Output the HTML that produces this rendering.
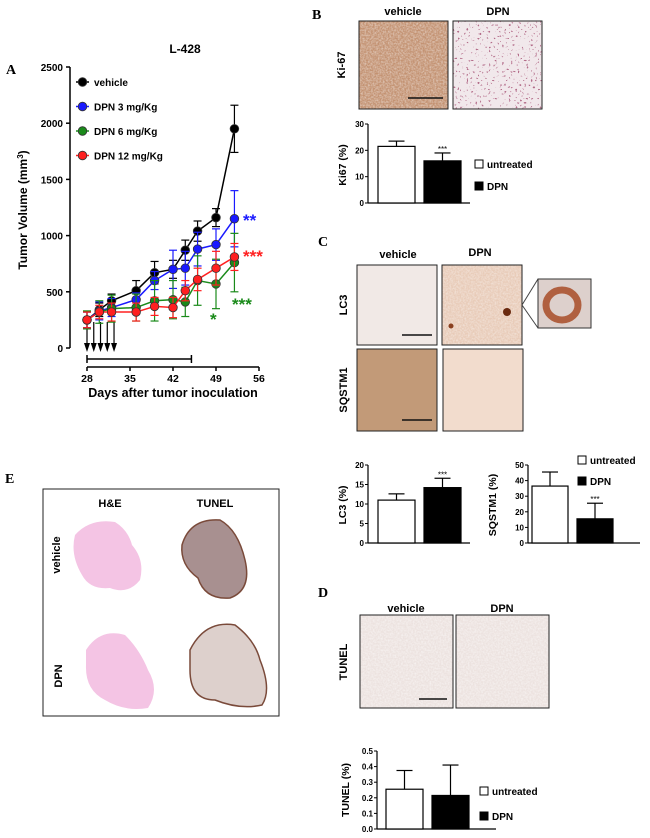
<!DOCTYPE html>
<html><head><meta charset="utf-8"><style>
body{margin:0;background:#fff;}
svg{display:block;font-family:"Liberation Sans",Arial,sans-serif;}
.b{font-weight:bold;}
</style></head><body>
<svg id="fig" width="650" height="838" viewBox="0 0 650 838" xmlns="http://www.w3.org/2000/svg">
<defs>
<filter id="noise" x="0" y="0" width="100%" height="100%">
<feTurbulence type="fractalNoise" baseFrequency="0.6" numOctaves="2" seed="3" result="n"/>
<feColorMatrix in="n" type="matrix" values="0 0 0 0 1  0 0 0 0 1  0 0 0 0 1  0 0 0 -1.6 1.1" result="w"/>
<feComposite in="w" in2="SourceGraphic" operator="in"/>
</filter>
<filter id="dots" x="0" y="0" width="100%" height="100%">
<feTurbulence type="fractalNoise" baseFrequency="0.45" numOctaves="1" seed="7" result="n"/>
<feColorMatrix in="n" type="matrix" values="0 0 0 0 0.45  0 0 0 0 0.15  0 0 0 0 0.25  0 0 0 -14 5.0" result="d"/>
<feComposite in="d" in2="SourceGraphic" operator="in"/>
</filter>
</defs>

<!-- Panel A -->
<g id="panelA">
<text x="6" y="74" font-family="Liberation Serif" font-size="14" class="b">A</text>
<text x="185" y="53" font-size="12" class="b" text-anchor="middle">L-428</text>
<text transform="translate(27,210) rotate(-90)" font-size="12" class="b" text-anchor="middle">Tumor Volume (mm<tspan dy="-4" font-size="8">3</tspan><tspan dy="4">)</tspan></text>
<text x="173" y="397" font-size="12.5" class="b" text-anchor="middle">Days after tumor inoculation</text>
<g id="aAxes"></g>
<g id="aSeries"></g>
<g id="aLegend"></g>
<text x="243" y="226" font-size="17" class="b" fill="#1a1aff">**</text>
<text x="243" y="262" font-size="17" class="b" fill="#ff2020">***</text>
<text x="232" y="310" font-size="17" class="b" fill="#1a8a1a">***</text>
<text x="210" y="325" font-size="17" class="b" fill="#1a8a1a">*</text>
</g>

<!-- Panel B -->
<g>
<text x="312" y="19" font-family="Liberation Serif" font-size="14" class="b">B</text>
<text x="403" y="15" font-size="11" class="b" text-anchor="middle">vehicle</text>
<text x="498" y="15" font-size="11" class="b" text-anchor="middle">DPN</text>
<text transform="translate(345,65) rotate(-90)" font-size="11" class="b" text-anchor="middle">Ki-67</text>
<rect x="359" y="21" width="89" height="88" fill="#c39272"/>
<rect x="359" y="21" width="89" height="88" fill="#c39272" filter="url(#noise)" opacity="0.55"/>
<rect x="359" y="21" width="89" height="88" fill="none" stroke="#222" stroke-width="1"/>
<line x1="408" y1="98" x2="443" y2="98" stroke="#111" stroke-width="1.5"/>
<rect x="453" y="21" width="89" height="88" fill="#f1e8eb"/>
<rect x="453" y="21" width="89" height="88" fill="#f1e8eb" filter="url(#dots)"/>
<rect x="453" y="21" width="89" height="88" fill="none" stroke="#222" stroke-width="1"/>
<g id="chartKi"></g>
</g>

<!-- Panel C -->
<g>
<text x="318" y="246" font-family="Liberation Serif" font-size="14" class="b">C</text>
<text x="398" y="258" font-size="11" class="b" text-anchor="middle">vehicle</text>
<text x="480" y="256" font-size="11" class="b" text-anchor="middle">DPN</text>
<text transform="translate(347,305) rotate(-90)" font-size="11" class="b" text-anchor="middle">LC3</text>
<text transform="translate(347,390) rotate(-90)" font-size="11" class="b" text-anchor="middle">SQSTM1</text>
<rect x="357" y="265" width="80" height="80" fill="#f1e9e6"/>
<rect x="357" y="265" width="80" height="80" fill="none" stroke="#222"/>
<line x1="402" y1="335" x2="432" y2="335" stroke="#111" stroke-width="1.5"/>
<rect x="442" y="265" width="80" height="80" fill="#e8cbb8"/>
<rect x="442" y="265" width="80" height="80" fill="#e8cbb8" filter="url(#noise)" opacity="0.5"/>
<circle cx="507" cy="312" r="4" fill="#6a2a10"/>
<circle cx="451" cy="326" r="2.5" fill="#8a4020"/>
<rect x="442" y="265" width="80" height="80" fill="none" stroke="#222"/>
<line x1="522" y1="305" x2="538" y2="279" stroke="#444"/><line x1="522" y1="305" x2="538" y2="328" stroke="#444"/>
<rect x="538" y="279" width="53" height="49" fill="#ddd0cc" stroke="#333"/>
<ellipse cx="562" cy="305" rx="16" ry="15" fill="none" stroke="#b06040" stroke-width="7"/>
<rect x="357" y="349" width="80" height="82" fill="#c29a78"/>
<rect x="357" y="349" width="80" height="82" fill="none" stroke="#222"/>
<line x1="402" y1="420" x2="432" y2="420" stroke="#111" stroke-width="1.5"/>
<rect x="443" y="349" width="80" height="82" fill="#f2dccd"/>
<rect x="443" y="349" width="80" height="82" fill="none" stroke="#222"/>
<g id="chartLc3"></g>
<g id="chartSq"></g>
</g>

<!-- Panel E -->
<g>
<text x="5" y="483" font-family="Liberation Serif" font-size="14" class="b">E</text>
<rect x="43" y="489" width="236" height="227" fill="none" stroke="#222" stroke-width="1"/>
<text x="110" y="507" font-size="11" class="b" text-anchor="middle">H&amp;E</text>
<text x="215" y="507" font-size="11" class="b" text-anchor="middle">TUNEL</text>
<text transform="translate(60,555) rotate(-90)" font-size="11" class="b" text-anchor="middle">vehicle</text>
<text transform="translate(62,676) rotate(-90)" font-size="11" class="b" text-anchor="middle">DPN</text>
<path d="M75,535 Q90,518 115,522 Q128,530 132,545 Q145,560 140,580 Q128,595 110,588 Q90,590 82,575 Q70,555 75,535Z" fill="#f4c4e4"/>
<path d="M182,545 Q190,518 220,520 Q238,530 245,560 Q252,590 230,598 Q205,600 198,578 Q180,565 182,545Z" fill="#a89090" stroke="#7a4a3a" stroke-width="1.5"/>
<path d="M86,650 Q100,628 125,635 Q140,650 148,670 Q160,690 148,708 Q125,712 105,700 Q85,690 86,665Z" fill="#f4c4e4"/>
<path d="M190,650 Q205,620 235,625 Q255,640 260,660 Q272,690 262,705 Q240,710 215,700 Q190,700 190,670Z" fill="#ddd0cc" stroke="#7a4a3a" stroke-width="1.5"/>
</g>

<!-- Panel D -->
<g>
<text x="318" y="597" font-family="Liberation Serif" font-size="14" class="b">D</text>
<text x="406" y="612" font-size="11" class="b" text-anchor="middle">vehicle</text>
<text x="502" y="612" font-size="11" class="b" text-anchor="middle">DPN</text>
<text transform="translate(347,662) rotate(-90)" font-size="11" class="b" text-anchor="middle">TUNEL</text>
<rect x="360" y="615" width="93" height="93" fill="#ece2df"/>
<rect x="360" y="615" width="93" height="93" fill="#ece2df" filter="url(#noise)" opacity="0.6"/>
<rect x="360" y="615" width="93" height="93" fill="none" stroke="#222"/>
<line x1="419" y1="699" x2="447" y2="699" stroke="#111" stroke-width="1.5"/>
<rect x="456" y="615" width="93" height="93" fill="#ece2df"/>
<rect x="456" y="615" width="93" height="93" fill="#ece2df" filter="url(#noise)" opacity="0.6"/>
<rect x="456" y="615" width="93" height="93" fill="none" stroke="#222"/>
<g id="chartTun"></g>
</g>
</svg>
<script>
// ---- Panel A data ----
const aDays = [28, 30, 32, 36, 39, 42, 44, 46, 49, 52];
const aSeriesNames = ["vehicle", "DPN 3 mg/Kg", "DPN 6 mg/Kg", "DPN 12 mg/Kg"];
const aVehicle = [250, 340, 420, 510, 670, 700, 870, 1040, 1160, 1950];
const aVehicleErr = [70, 60, 60, 90, 100, 80, 90, 90, 80, 210];
const aDpn3 = [250, 330, 360, 430, 600, 700, 710, 880, 920, 1150];
const aDpn3Err = [70, 80, 80, 60, 80, 170, 150, 150, 140, 250];
const aDpn6 = [250, 320, 350, 360, 420, 430, 410, 600, 570, 760];
const aDpn6Err = [80, 100, 120, 120, 180, 170, 130, 220, 220, 260];
const aDpn12 = [250, 320, 320, 320, 370, 360, 510, 610, 710, 810];
const aDpn12Err = [70, 60, 80, 80, 80, 90, 90, 100, 150, 120];
const aYTicks = [0, 500, 1000, 1500, 2000, 2500];
const aXTicks = [28, 35, 42, 49, 56];
const aDoseDays = [28, 29.1, 30.2, 31.3, 32.4];
const aTreatStart = 28, aTreatEnd = 45;

// ---- Bar chart data ----
const ki67Values = [21.5, 16];
const ki67Err = [2, 3];
const ki67Ticks = [0, 10, 20, 30];
const lc3Values = [11, 14.2];
const lc3Err = [1.6, 2.4];
const lc3Ticks = [0, 5, 10, 15, 20];
const sqValues = [36.5, 15.5];
const sqErr = [9, 10];
const sqTicks = [0, 10, 20, 30, 40, 50];
const tunValues = [0.255, 0.215];
const tunErr = [0.12, 0.195];
const tunTicks = [0, 0.1, 0.2, 0.3, 0.4, 0.5];
const groupNames = ["untreated", "DPN"];

const NS = "http://www.w3.org/2000/svg";
function mk(parent, tag, attrs, text) {
  const e = document.createElementNS(NS, tag);
  for (const k in attrs) e.setAttribute(k, attrs[k]);
  if (text !== undefined) e.textContent = text;
  parent.appendChild(e);
  return e;
}

// Panel A
(function () {
  const ax = document.getElementById("aAxes");
  const sg = document.getElementById("aSeries");
  const lg = document.getElementById("aLegend");
  const x = d => 87 + (d - 28) * (172 / 28);
  const y = v => 348 - v * (281 / 2500);
  let l = mk(ax, "line", {x1: 70, y1: y(0), x2: 70, y2: y(2500), stroke: "#000", "stroke-width": 1.5});
  
  
  aYTicks.forEach(t => {
    mk(ax, "line", {x1: 66, y1: y(t), x2: 70, y2: y(t), stroke: "#000", "stroke-width": 1.5});
    const tx = mk(ax, "text", {x: 63, y: y(t) + 4, "font-size": 10, "font-weight": "bold", "text-anchor": "end"}, t);
    
    
  });
  l = mk(ax, "line", {x1: x(28), y1: 367, x2: x(56), y2: 367, stroke: "#000", "stroke-width": 1.5});
  
  
  aXTicks.forEach(t => {
    mk(ax, "line", {x1: x(t), y1: 367, x2: x(t), y2: 371, stroke: "#000", "stroke-width": 1.5});
    const tx = mk(ax, "text", {x: x(t), y: 382, "font-size": 10.5, "font-weight": "bold", "text-anchor": "middle"}, t);
    
    
  });
  const tb = mk(ax, "g", {});
  
  
  mk(tb, "line", {x1: x(aTreatStart), y1: 359, x2: x(aTreatEnd), y2: 359, stroke: "#000", "stroke-width": 1.5});
  mk(tb, "line", {x1: x(aTreatStart), y1: 355, x2: x(aTreatStart), y2: 363, stroke: "#000", "stroke-width": 1.5});
  mk(tb, "line", {x1: x(aTreatEnd), y1: 355, x2: x(aTreatEnd), y2: 363, stroke: "#000", "stroke-width": 1.5});
  aDoseDays.forEach(d => {
    const g = mk(ax, "g", {});
    
    
    mk(g, "line", {x1: x(d), y1: 322, x2: x(d), y2: 347, stroke: "#000", "stroke-width": 1.2});
    mk(g, "polygon", {points: `${x(d) - 3},343 ${x(d) + 3},343 ${x(d)},352`, fill: "#000"});
  });
  const series = [
    {v: aVehicle, e: aVehicleErr, c: "#000", m: "#000"},
    {v: aDpn3, e: aDpn3Err, c: "#1a1aff", m: "#1a1aff"},
    {v: aDpn6, e: aDpn6Err, c: "#1a8a1a", m: "#1a8a1a"},
    {v: aDpn12, e: aDpn12Err, c: "#ff2020", m: "#ff2020"}
  ];
  series.forEach((s, si) => {
    const g = mk(sg, "g", {});
    
    
    s.v.forEach((v, i) => {
      const cx = x(aDays[i]);
      mk(g, "line", {x1: cx, y1: y(v - s.e[i]), x2: cx, y2: y(v + s.e[i]), stroke: s.c, "stroke-width": 1.2});
      mk(g, "line", {x1: cx - 4, y1: y(v + s.e[i]), x2: cx + 4, y2: y(v + s.e[i]), stroke: s.c, "stroke-width": 1.2});
      mk(g, "line", {x1: cx - 4, y1: y(v - s.e[i]), x2: cx + 4, y2: y(v - s.e[i]), stroke: s.c, "stroke-width": 1.2});
    });
    mk(g, "polyline", {points: s.v.map((v, i) => x(aDays[i]) + "," + y(v)).join(" "), fill: "none", stroke: s.c, "stroke-width": 1.5});
    s.v.forEach((v, i) => {
      const p = mk(g, "circle", {cx: x(aDays[i]), cy: y(v), r: 4.3, fill: s.m, stroke: "#333", "stroke-width": 0.8});
      
      
    });
    const le = mk(lg, "g", {});
    
    
    const ly = 82 + si * 24.5;
    mk(le, "line", {x1: 76, y1: ly, x2: 89, y2: ly, stroke: s.c, "stroke-width": 1.5});
    mk(le, "circle", {cx: 82.5, cy: ly, r: 4.3, fill: s.m, stroke: "#333", "stroke-width": 0.8});
    mk(le, "text", {x: 94, y: ly + 4, "font-size": 10, "font-weight": "bold"}, aSeriesNames[si]);
  });
})();

function barChart(id, name, vals, errs, ticks, o) {
  const g = document.getElementById(id);
  
  
  const max = ticks[ticks.length - 1];
  const y = v => o.y0 - (v / max) * (o.y0 - o.yTop);
  mk(g, "line", {x1: o.ax, y1: o.y0, x2: o.ax, y2: o.yTop, stroke: "#000", "stroke-width": 1.2});
  mk(g, "line", {x1: o.ax, y1: o.y0, x2: o.xEnd, y2: o.y0, stroke: "#000", "stroke-width": 1.2});
  ticks.forEach(t => {
    mk(g, "line", {x1: o.ax - 3, y1: y(t), x2: o.ax, y2: y(t), stroke: "#000", "stroke-width": 1});
    const tx = mk(g, "text", {x: o.ax - 4, y: y(t) + 3, "font-size": 8, "font-weight": "bold", "text-anchor": "end"}, o.fmt ? t.toFixed(1) : t);
    
    
  });
  vals.forEach((v, i) => {
    const bx = o.bars[i];
    const cx = bx + o.bw / 2;
    mk(g, "line", {x1: cx, y1: y(v), x2: cx, y2: y(v + errs[i]), stroke: "#000", "stroke-width": 1.2});
    mk(g, "line", {x1: cx - 8, y1: y(v + errs[i]), x2: cx + 8, y2: y(v + errs[i]), stroke: "#000", "stroke-width": 1.2});
    const r = mk(g, "rect", {x: bx, y: y(v), width: o.bw, height: o.y0 - y(v), fill: i === 0 ? "#fff" : "#000", stroke: "#000", "stroke-width": 1.2});
    
    
    if (o.stars && i === 1) mk(g, "text", {x: cx, y: y(v + errs[i]) - 1, "font-size": 8, "text-anchor": "middle"}, "***");
  });
  const yt = mk(g, "text", {transform: `translate(${o.titleX},${o.titleY}) rotate(-90)`, "font-size": 10.5, "font-weight": "bold", "text-anchor": "middle"}, o.title);
  
  
  if (o.legend) {
    o.legend.forEach((ly, i) => {
      const le = mk(g, "g", {});
      
      
      mk(le, "rect", {x: o.legX, y: ly - 8, width: 8, height: 8, fill: i === 0 ? "#fff" : "#000", stroke: "#000", "stroke-width": 1});
      mk(le, "text", {x: o.legX + 12, y: ly, "font-size": 10, "font-weight": "bold"}, groupNames[i]);
    });
  }
}
barChart("chartKi", "ki67-bar-chart", ki67Values, ki67Err, ki67Ticks,
  {ax: 368, y0: 203, yTop: 124, xEnd: 470, bars: [378, 424], bw: 37, stars: true, title: "Ki67 (%)", titleX: 346, titleY: 165, legend: [168, 190], legX: 475});
barChart("chartLc3", "lc3-bar-chart", lc3Values, lc3Err, lc3Ticks,
  {ax: 368, y0: 543, yTop: 465, xEnd: 470, bars: [378, 424], bw: 37, stars: true, title: "LC3 (%)", titleX: 346, titleY: 505});
barChart("chartSq", "sqstm1-bar-chart", sqValues, sqErr, sqTicks,
  {ax: 528, y0: 543, yTop: 465, xEnd: 640, bars: [532, 577], bw: 36, stars: true, title: "SQSTM1 (%)", titleX: 496, titleY: 505, legend: [464, 485], legX: 578});
barChart("chartTun", "tunel-bar-chart", tunValues, tunErr, tunTicks,
  {ax: 377, y0: 829, yTop: 751, xEnd: 496, bars: [386, 432], bw: 37, title: "TUNEL (%)", titleX: 349, titleY: 790, legend: [795, 820], legX: 480, fmt: true});
</script>
</body></html>
